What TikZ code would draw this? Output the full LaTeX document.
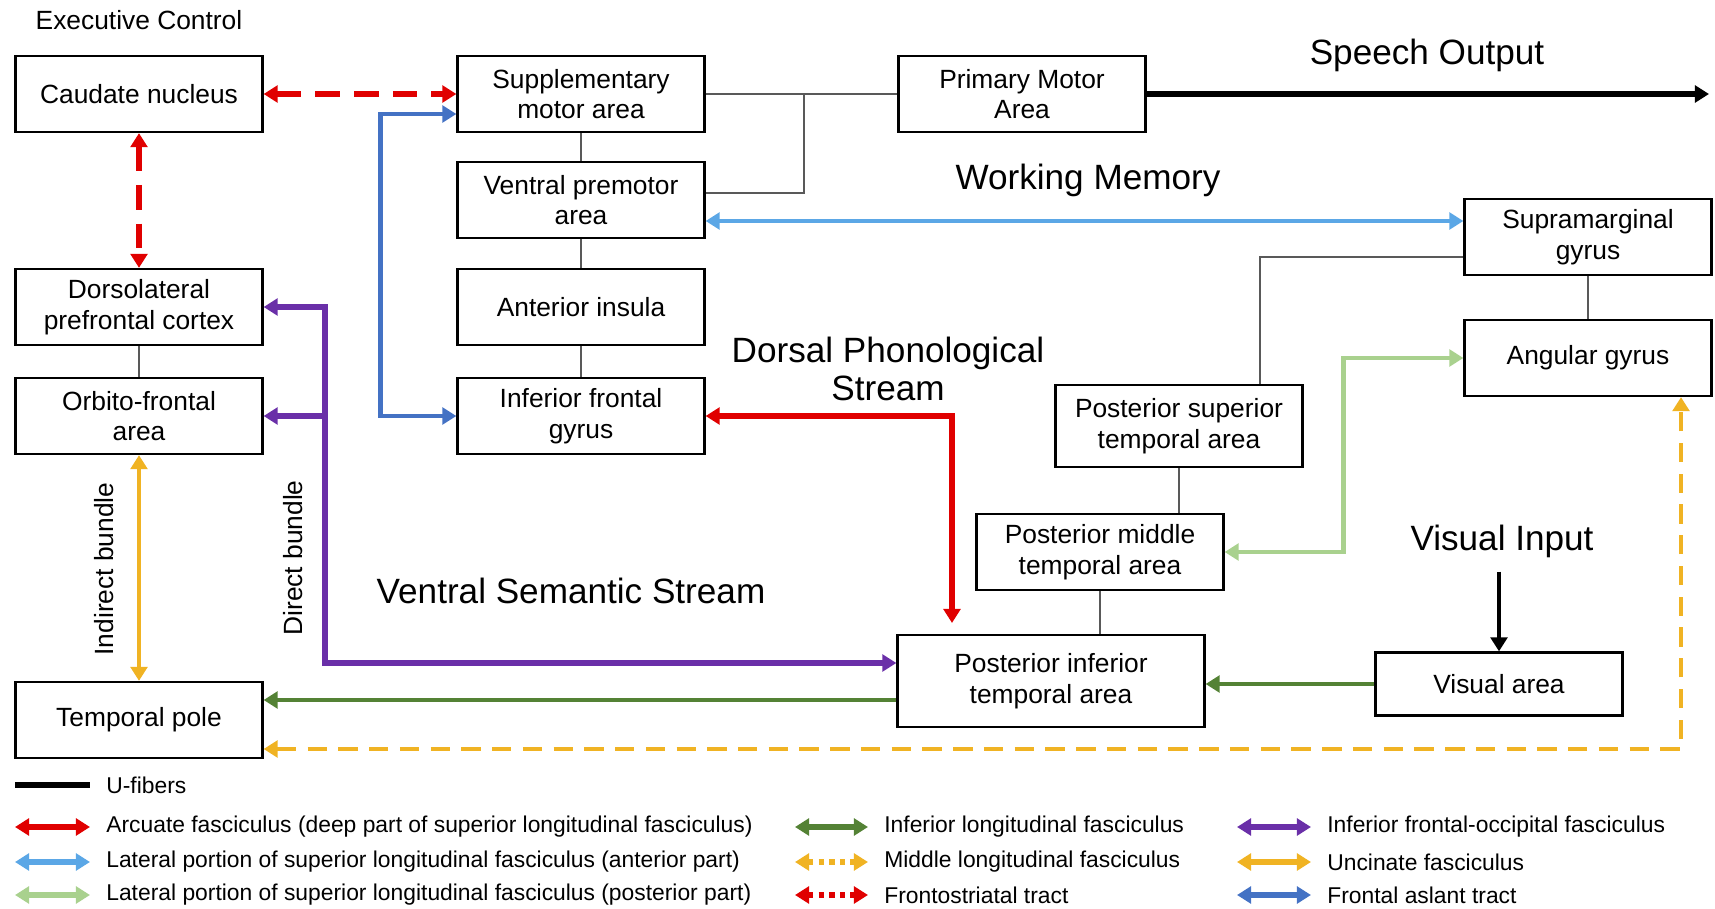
\documentclass[tikz,border=0pt]{standalone}
\usepackage{fontspec}
\setmainfont{Liberation Sans}
\usepackage{xcolor}
\usepackage{tikz}
\usetikzlibrary{arrows.meta,positioning,calc}
\definecolor{afred}{HTML}{E00000}
\definecolor{slfblue}{HTML}{5BA7E6}
\definecolor{slfgreen}{HTML}{A9D18E}
\definecolor{ilfgreen}{HTML}{548235}
\definecolor{ufyellow}{HTML}{F0B323}
\definecolor{ifofpurple}{HTML}{6A2FA8}
\definecolor{fatblue}{HTML}{4472C4}

\begin{document}
\begin{tikzpicture}[x=0.02cm,y=-0.02cm,>={Triangle[length=8pt,width=9.5pt]},
    area/.style={draw,line width=1.3pt,minimum width=4.94cm,minimum height=1.52cm,align=center,inner sep=0pt,font=\fontsize{15}{17.5}\selectfont},
    ulink/.style={draw=black!65,line width=0.9pt},
    tract/.style={line width=2.5pt},
    bold tract/.style={line width=3.3pt},
    head/.style={align=center,font=\fontsize{20}{22}\selectfont},
    legtext/.style={anchor=west,inner sep=0pt,font=\fontsize{13}{15}\selectfont}]
    \useasboundingbox (0,0) rectangle (1715,909);

    % Executive control column
    \node[font=\fontsize{15}{17}\selectfont] (exec) at (139,20) {Executive Control};
    \node[area] (caudate) at (139,94) {Caudate nucleus};
    \node[area] (dlpfc) at (139,307) {Dorsolateral\\prefrontal cortex};
    \node[area] (ofa) at (139,416) {Orbito-frontal\\area};
    \node[area] (tp) at (139,720) {Temporal pole};

    % Frontal motor column
    \node[area] (sma) at (581,94) {Supplementary\\motor area};
    \node[area] (vpm) at (581,200) {Ventral premotor\\area};
    \node[area] (ai) at (581,307) {Anterior insula};
    \node[area] (ifg) at (581,416) {Inferior frontal\\gyrus};
    \node[area] (pma) at (1022,94) {Primary Motor\\Area};

    % Parietal and temporal areas
    \node[area] (smg) at (1588,237) {Supramarginal\\gyrus};
    \node[area] (ag) at (1588,358) {Angular gyrus};
    \node[area,minimum height=1.64cm] (psta) at (1179,426) {Posterior superior\\temporal area};
    \node[area] (pmta) at (1100,552) {Posterior middle\\temporal area};
    \node[area,minimum width=6.14cm,minimum height=1.84cm] (pita) at (1051,681) {Posterior inferior\\temporal area};
    \node[area,minimum height=1.26cm] (visual) at (1499,684) {Visual area};

    % Stream labels
    \node[head] (speech) at (1427,55) {Speech Output};
    \node[head] (wm) at (1088,180) {Working Memory};
    \node[head] (dps) at (888,369) {Dorsal Phonological\\Stream};
    \node[head] (vss) at (571,591) {Ventral Semantic Stream};
    \node[head] (vin) at (1502,541) {Visual Input};
    \node[rotate=90,font=\fontsize{15}{17}\selectfont] (direct) at (293,558) {Direct bundle};
    \node[rotate=90,font=\fontsize{15}{17}\selectfont] (indirect) at (104,569) {Indirect bundle};

    % U-fibers
    \draw[ulink] (sma) -- (vpm);
    \draw[ulink] (vpm) -- (ai);
    \draw[ulink] (ai) -- (ifg);
    \draw[ulink] (dlpfc) -- (ofa);
    \draw[ulink] (sma) -- (pma);
    \coordinate (mjoin) at (804,94);
    \draw[ulink] ($(vpm.east)+(0,-7)$) -| (mjoin);
    \draw[ulink] (smg) -- (ag);
    \draw[ulink] ($(smg.west)+(0,20)$) -| ($(psta.north)+(81,0)$);
    \draw[ulink] (psta.south) -- (psta.south |- pmta.north);
    \draw[ulink] (pmta.south) -- (pmta.south |- pita.north);

    % Speech output and visual input
    \coordinate (out) at (1709,94);
    \draw[bold tract,->] (pma.east) -- (out);
    \draw[tract,->] ($(visual.north |- vin.south)+(0,8)$) -- (visual.north);

    % Frontostriatal tract
    \draw[bold tract,afred,dash pattern=on 14pt off 8pt,<->] (caudate) -- (sma);
    \draw[bold tract,afred,dash pattern=on 14pt off 8pt,<->] (caudate) -- (dlpfc);

    % Frontal aslant tract
    \draw[tract,fatblue,<->] ($(sma.west)+(0,20)$) -- ++(-76,0) |- (ifg.west);

    % Superior longitudinal fasciculus
    \draw[tract,slfblue,<->] ($(vpm.east)+(0,21)$) -- ($(smg.west)+(0,-16)$);
    \draw[tract,slfgreen,<->] (pmta.east) -- ++(119,0) |- (ag.west);

    % Arcuate fasciculus
    \coordinate (arcend) at (952,623);
    \draw[bold tract,afred,<->] (ifg.east) -| (arcend);

    % Inferior frontal-occipital fasciculus
    \draw[bold tract,ifofpurple,<->] (dlpfc.east) -- ++(61,0) |- ($(pita.west)+(0,-18)$);
    \coordinate (ifofbr) at (325,416);
    \draw[bold tract,ifofpurple,->] (ifofbr) -- (ofa.east);

    % Inferior longitudinal fasciculus
    \draw[tract,ilfgreen,->] (visual.west) -- (visual.west -| pita.east);
    \coordinate (ilfw) at ($(pita.west)+(0,19)$);
    \draw[tract,ilfgreen,->] (ilfw) -- (ilfw -| tp.east);

    % Uncinate and middle longitudinal fasciculus
    \draw[tract,ufyellow,<->] (ofa) -- (tp);
    \draw[tract,ufyellow,dash pattern=on 11pt off 6.5pt,<->] ($(tp.east)+(0,29)$) -| ($(ag.south)+(93,0)$);

    % Legend
    \node[legtext] (lu) at (106,785) {U-fibers};
    \draw[bold tract] ($(lu.west)+(-91,0)$) -- ($(lu.west)+(-16,0)$);
    \node[legtext] (laf) at (106,827) {Arcuate fasciculus (deep part of superior longitudinal fasciculus)};
    \draw[bold tract,afred,<->] ($(laf.west)+(-91,0)$) -- ($(laf.west)+(-16,0)$);
    \node[legtext] (lslfa) at (106,862) {Lateral portion of superior longitudinal fasciculus (anterior part)};
    \draw[bold tract,slfblue,<->] ($(lslfa.west)+(-91,0)$) -- ($(lslfa.west)+(-16,0)$);
    \node[legtext] (lslfp) at (106,895) {Lateral portion of superior longitudinal fasciculus (posterior part)};
    \draw[bold tract,slfgreen,<->] ($(lslfp.west)+(-91,0)$) -- ($(lslfp.west)+(-16,0)$);
    \node[legtext] (lilf) at (884,827) {Inferior longitudinal fasciculus};
    \draw[bold tract,ilfgreen,<->] ($(lilf.west)+(-89,0)$) -- ($(lilf.west)+(-16,0)$);
    \node[legtext] (lmdlf) at (884,862) {Middle longitudinal fasciculus};
    \draw[bold tract,ufyellow,dash pattern=on 3pt off 3pt,<->] ($(lmdlf.west)+(-89,0)$) -- ($(lmdlf.west)+(-16,0)$);
    \node[legtext] (lfst) at (884,895) {Frontostriatal tract};
    \draw[bold tract,afred,dash pattern=on 3pt off 3pt,<->] ($(lfst.west)+(-89,0)$) -- ($(lfst.west)+(-16,0)$);
    \node[legtext] (lifof) at (1327,827) {Inferior frontal-occipital fasciculus};
    \draw[bold tract,ifofpurple,<->] ($(lifof.west)+(-90,0)$) -- ($(lifof.west)+(-16,0)$);
    \node[legtext] (luf) at (1327,862) {Uncinate fasciculus};
    \draw[bold tract,ufyellow,<->] ($(luf.west)+(-90,0)$) -- ($(luf.west)+(-16,0)$);
    \node[legtext] (lfat) at (1327,895) {Frontal aslant tract};
    \draw[bold tract,fatblue,<->] ($(lfat.west)+(-90,0)$) -- ($(lfat.west)+(-16,0)$);
\end{tikzpicture}
\end{document}
